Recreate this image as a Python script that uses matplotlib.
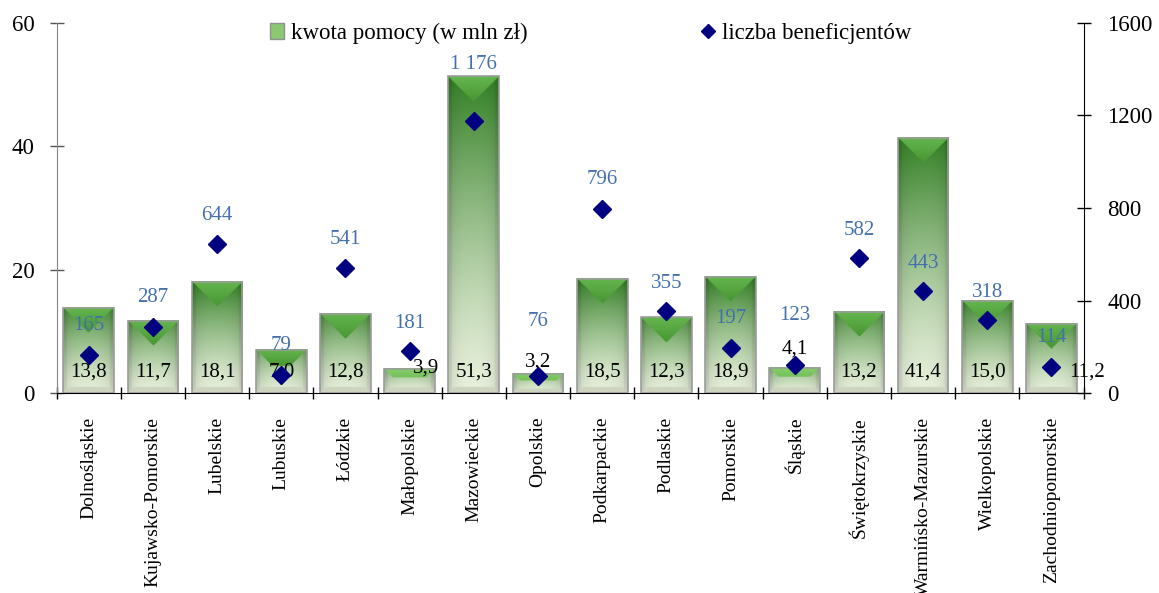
import numpy as np
import matplotlib
matplotlib.use("Agg")
import matplotlib.pyplot as plt
from matplotlib.patches import Rectangle, Patch
from matplotlib.lines import Line2D

plt.rcParams['font.family'] = ['Liberation Serif', 'DejaVu Serif']

# ---------------- data ----------------
regions = ["Dolnośląskie", "Kujawsko-Pomorskie", "Lubelskie", "Lubuskie", "Łódzkie",
           "Małopolskie", "Mazowieckie", "Opolskie", "Podkarpackie", "Podlaskie",
           "Pomorskie", "Śląskie", "Świętokrzyskie", "Warmińsko-Mazurskie",
           "Wielkopolskie", "Zachodniopomorskie"]
amounts = [13.8, 11.7, 18.1, 7.0, 12.8, 3.9, 51.3, 3.2, 18.5, 12.3, 18.9, 4.1, 13.2, 41.4, 15.0, 11.2]
beneficiaries = [165, 287, 644, 79, 541, 181, 1176, 76, 796, 355, 197, 123, 582, 443, 318, 114]
left_ticks = [0, 20, 40, 60]
right_ticks = [0, 400, 800, 1200, 1600]
legend_labels = ["kwota pomocy (w mln zł)", "liczba beneficjentów"]

# label placement (pixels) -- styling only
ben_label_dy = [30, 29, 29, 30, 28, 28, 56, 54, 29, 28, 29, 49, 28, 27, 27, 29]
amt_label_dx = [0, 0, 0, 0, 0, 16, 0, 0, 0, 0, 0, 0, 0, 0, 0, 36]
amt_label_dy = [21, 21, 21, 21, 21, 25, 21, 31, 21, 21, 21, 44, 21, 21, 21, 21]

W_IN, H_IN, DPI = 11.59, 5.93, 100
fig = plt.figure(figsize=(W_IN, H_IN), dpi=DPI)
L, R, B, T = 56.7, 1083.5, 393.3, 22.7
ax = fig.add_axes([L / 1159, 1 - B / 593, (R - L) / 1159, (B - T) / 593])
ax2 = ax.twinx()

n = len(regions)
bw = 0.79
px_per_x = (R - L) / n
px_per_y = (B - T) / left_ticks[-1]


def bar_image(h_px, w_px):
    H = max(int(round(h_px * 2)), 4)
    W = int(round(w_px * 2))
    ys = (np.arange(H) + 0.5) / 2.0
    xs = (np.arange(W) + 0.5) / 2.0
    X, Y = np.meshgrid(xs, ys)
    Hp, Wp = H / 2.0, W / 2.0
    v = 1 - Y / Hp
    u = X / Wp
    s = np.clip(0.35 + Hp / 160.0, 0, 1)
    dark = np.array([50, 128, 36]) / 255
    pale = np.array([230, 239, 218]) / 255
    t = (v ** 1.35) * s
    col = pale + (dark - pale) * t[..., None]
    shade = 1 - 0.12 * np.abs(2 * u - 1) ** 3
    col = col * shade[..., None]
    dl, dr, dt, db = X, Wp - X, Y, Hp - Y
    # top bevel face
    d = min(Wp / 2, Hp * 0.38)
    top = (dt < d) & (dt <= dl) & (dt <= dr)
    if Hp > 40:
        light = np.array([100, 182, 78]) / 255
        mid = np.array([72, 150, 52]) / 255
    else:
        light = np.array([132, 208, 104]) / 255
        mid = np.array([118, 192, 92]) / 255
    f = (dt / max(d, 1e-6))[..., None]
    tc = light + (mid - light) * f
    col = np.where(top[..., None], tc, col)
    # bottom bevel face
    bb = min(6.0, Hp * 0.22)
    bot = (db < bb) & (db <= dl) & (db <= dr)
    bc = np.array([205, 212, 192]) / 255
    col = np.where(bot[..., None], bc, col)
    side = ((dl < 4) | (dr < 4)) & ~top & ~bot
    col = np.where(side[..., None], col * 0.94, col)
    return np.clip(col, 0, 1)


for i, a in enumerate(amounts):
    x0, x1 = i - bw / 2, i + bw / 2
    img = bar_image(a * px_per_y, bw * px_per_x)
    ax.imshow(img, extent=(x0, x1, 0, a), origin='upper', aspect='auto',
              interpolation='bilinear', zorder=2)
    ax.add_patch(Rectangle((x0, 0), bw, a, fill=False, edgecolor='#9c9c9c', lw=1.2, zorder=3))

ax.set_xlim(-0.5, n - 0.5)
ax.set_ylim(left_ticks[0], left_ticks[-1])
ax2.set_ylim(right_ticks[0], right_ticks[-1])

# markers
ax2.plot(range(n), beneficiaries, linestyle='none', marker='D', markersize=9,
         color='#000080', zorder=5)

# labels
for i, (a, b) in enumerate(zip(amounts, beneficiaries)):
    ax2.annotate(f"{b:,}".replace(",", " "), (i, b), xytext=(0, ben_label_dy[i]),
                 textcoords='offset pixels', ha='center', va='center',
                 color='#4470ad', fontsize=15, zorder=6)
    ax2.annotate(f"{a:.1f}".replace(".", ","), (i, 0),
                 xytext=(amt_label_dx[i], amt_label_dy[i]),
                 textcoords='offset pixels', ha='center', va='center',
                 color='black', fontsize=15, zorder=4)

# axes styling
ax.set_xticks(range(n))
ax.set_xticklabels(regions, rotation=90, fontsize=14)
ax.set_xticks(np.arange(-0.5, n, 1.0), minor=True)
ax.tick_params(axis='x', which='major', length=0, pad=17)
ax.tick_params(axis='x', which='minor', direction='inout', length=8, width=1, color='black')
ax.set_yticks(left_ticks)
ax.tick_params(axis='y', direction='inout', length=10, width=1, color='#555555', labelsize=16.5, pad=11)
ax2.set_yticks(right_ticks)
ax2.tick_params(axis='y', direction='inout', length=10, width=1, color='black', labelsize=16.5, pad=12)

for sp in ['top', 'right']:
    ax.spines[sp].set_visible(False)
ax.spines['left'].set_color('#868686')
ax.spines['bottom'].set_color('black')
for sp in ['top', 'left', 'bottom']:
    ax2.spines[sp].set_visible(False)
ax2.spines['right'].set_color('black')

handles = [Patch(facecolor='#8cc870', edgecolor='#909090'),
           Line2D([], [], linestyle='none', marker='D', markersize=7, color='#000080')]
fig.legend(handles, legend_labels, ncol=2, loc='center left',
           bbox_to_anchor=(270 / 1159, 1 - 33 / 593), frameon=False, fontsize=16.5,
           handlelength=0.6, handleheight=0.7, handletextpad=0.3, columnspacing=7.6,
           borderpad=0, borderaxespad=0)

fig.savefig("out.png", dpi=DPI)
